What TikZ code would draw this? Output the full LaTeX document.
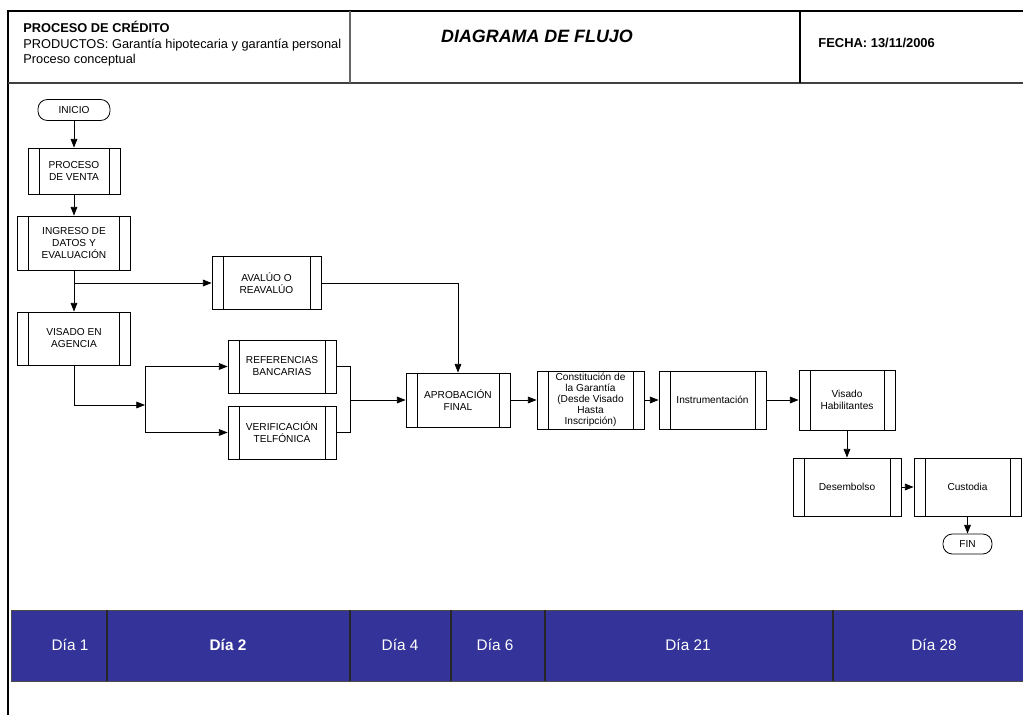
\documentclass[tikz,border=0pt]{standalone}
\usepackage{fontspec}
\setmainfont{Liberation Sans}
\usetikzlibrary{arrows.meta}
\definecolor{band}{HTML}{333399}
\tikzset{
  sz/.style 2 args={minimum width={#1*0.75pt}, minimum height={#2*0.75pt}},
  sub/.style={draw, align=center, inner sep=1pt,
    font=\fontsize{7.6}{9}\selectfont,
    path picture={
      \draw ([xshift=8.25pt]path picture bounding box.north west) -- ([xshift=8.25pt]path picture bounding box.south west);
      \draw ([xshift=-8.25pt]path picture bounding box.north east) -- ([xshift=-8.25pt]path picture bounding box.south east);}},
  term/.style={draw, rounded corners=7pt, inner sep=1pt, font=\fontsize{7.6}{9}\selectfont},
  arr/.style={-{Triangle[length=6.5pt,width=5pt]}},
  daylbl/.style={text=white, font=\fontsize{11.5}{13}\selectfont},
  divider/.style={draw=black!85, line width=0.9pt}
}
\begin{document}
\begin{tikzpicture}[x=0.75pt,y=-0.75pt, every path/.style={line width=0.6pt}]
\useasboundingbox (0,0) rectangle (1023,715);
% header
\draw[line width=0.9pt] (8,715) -- (8,11) -- (1023,11);
\draw[line width=1pt, draw=black!75] (8,83) -- (1023,83);
\draw[line width=1pt, draw=black!60] (350,11) -- (350,83);
\draw[line width=0.8pt] (800,11) -- (800,83);
\node[anchor=north west, align=left, inner sep=0, font=\fontsize{9.6}{11.6}\selectfont] (hdr) at (23,21)
  {\textbf{PROCESO DE CRÉDITO}\\PRODUCTOS: Garantía hipotecaria y garantía personal\\Proceso conceptual};
\node[font=\fontsize{13.4}{15}\selectfont\bfseries\itshape] (title) at (537,36) {DIAGRAMA DE FLUJO};
\node[anchor=west, inner sep=0, font=\fontsize{9.7}{11}\selectfont\bfseries] (fecha) at (818,43) {FECHA: 13/11/2006};

% nodes
\node[term, sz={72}{21}] (inicio) at (74,110) {INICIO};
\node[sub, sz={92}{46}] (venta) at (74,171) {PROCESO\\DE VENTA};
\node[sub, sz={113}{54}] (ingreso) at (74,243) {INGRESO DE\\DATOS Y\\EVALUACIÓN};
\node[sub, sz={109}{53}] (avaluo) at (266.5,283) {AVALÚO O\\REAVALÚO};
\node[sub, sz={113}{53}] (visado) at (74,338.5) {VISADO EN\\AGENCIA};
\node[sub, sz={108}{53}] (ref) at (282,366.5) {REFERENCIAS\\BANCARIAS};
\node[sub, sz={108}{53}] (verif) at (282,432.5) {VERIFICACIÓN\\TELFÓNICA};
\node[sub, sz={104}{54}] (aprob) at (458,400) {APROBACIÓN\\FINAL};
\node[sub, sz={107}{58}, font=\fontsize{7.6}{8.3}\selectfont] (const) at (590.5,400) {Constitución de\\la Garantía\\(Desde Visado\\Hasta\\Inscripción)};
\node[sub, sz={107}{58}] (instr) at (712.5,400) {Instrumentación};
\node[sub, sz={96}{60}] (vhab) at (847,400) {Visado\\Habilitantes};
\node[sub, sz={108}{58}] (desem) at (847,487) {Desembolso};
\node[sub, sz={107}{58}] (cust) at (967.5,487) {Custodia};
\node[term, sz={49}{20}] (fin) at (967.5,544) {FIN};

% connectors
\coordinate (j1) at (74,283);
\coordinate (j2) at (145,405);
\coordinate (j3) at (350,400);
\draw[arr] (inicio) -- (venta);
\draw[arr] (venta) -- (ingreso);
\draw[arr] (ingreso) -- (visado);
\draw[arr] (j1) -- (avaluo.west);
\draw[arr] (avaluo.east) -| (aprob.north);
\draw[arr] (visado.south) |- (j2);
\draw[arr] (j2) |- (ref.west);
\draw[arr] (j2) |- (verif.west);
\draw (ref.east) -| (j3);
\draw (verif.east) -| (j3);
\draw[arr] (j3) -- (aprob.west);
\draw[arr] (aprob) -- (const);
\draw[arr] (const) -- (instr);
\draw[arr] (instr) -- (vhab);
\draw[arr] (vhab) -- (desem);
\draw[arr] (desem) -- (cust);
\draw[arr] (cust) -- (fin);

% timeline band
\fill[band] (11,610) rectangle (1023,681);
\draw[draw=black!70, line width=0.5pt] (11,610) -- (1023,610) (11,681) -- (1023,681) (11,610) -- (11,681);
\foreach \x in {107,350,451,545,833} \draw[divider] (\x,610) -- (\x,681);
\node[daylbl] (d1) at (70,645) {Día 1};
\node[daylbl, font=\fontsize{11.5}{13}\selectfont\bfseries] (d2) at (228,645) {Día 2};
\node[daylbl] (d4) at (400,645) {Día 4};
\node[daylbl] (d6) at (495,645) {Día 6};
\node[daylbl] (d21) at (688,645) {Día 21};
\node[daylbl] (d28) at (934,645) {Día 28};
\end{tikzpicture}
\end{document}
